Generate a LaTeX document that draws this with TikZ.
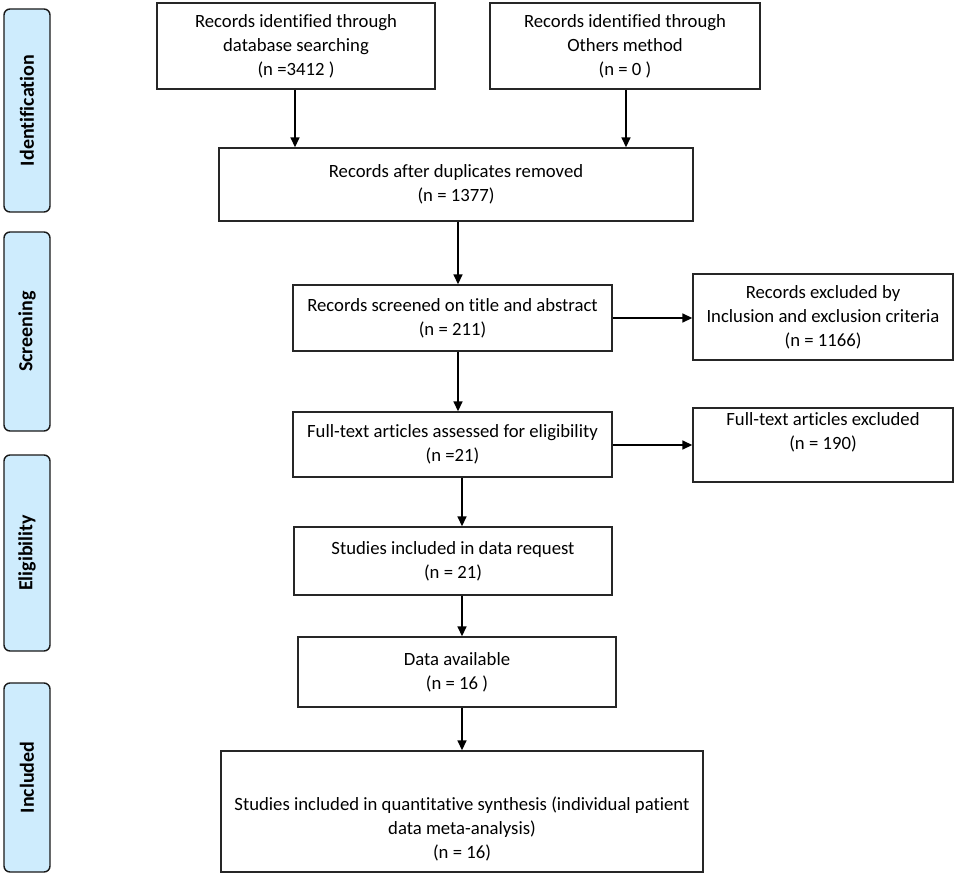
\documentclass[tikz,border=0pt]{standalone}
\usepackage{fontspec}
\setmainfont[Ligatures=NoCommon]{Carlito}
\usetikzlibrary{arrows.meta}
\definecolor{sidefill}{RGB}{206,236,253}
\tikzset{
  box/.style={draw=black!85, line width=1.4pt, fill=white, align=center, inner sep=2pt,
    font=\fontsize{18.7}{24}\selectfont, anchor=center},
  side/.style={draw=black!90, line width=1.4pt, fill=sidefill, rounded corners=6pt, anchor=center,
    minimum width=46pt},
  sidetext/.style={rotate=90, font=\fontsize{20}{24}\bfseries\selectfont},
  flow/.style={line width=1.6pt, -{Triangle[length=10pt,width=9pt]}},
}
\begin{document}
\begin{tikzpicture}[x=1pt,y=-1pt]
\useasboundingbox (0,0) rectangle (957,877);
% side phases
\node[side, minimum height=203pt] (sid) at (27,110.5) {};
\node[sidetext] (tid) at (sid.center) {Identification};
\node[side, minimum height=199pt] (ssc) at (27,331.5) {};
\node[sidetext] (tsc) at (ssc.center) {Screening};
\node[side, minimum height=196pt] (sel) at (27,553) {};
\node[sidetext] (tel) at (sel.center) {Eligibility};
\node[side, minimum height=189pt] (sin) at (27,777.5) {};
\node[sidetext] (tin) at (sin.center) {Included};
% boxes
\node[box, minimum width=278pt, minimum height=86pt] (A) at (296,46)
  {Records identified through\\database searching\\(n =3412 )};
\node[box, minimum width=270pt, minimum height=86pt] (B) at (625,46)
  {Records identified through\\Others method\\(n = 0 )};
\node[box, minimum width=474pt, minimum height=73pt] (C) at (456,184.5)
  {Records after duplicates removed\\(n = 1377)};
\node[box, minimum width=319pt, minimum height=66pt] (D) at (452.5,318)
  {Records screened on title and abstract\\(n = 211)};
\node[box, minimum width=260pt, minimum height=86pt] (E) at (823,317)
  {Records excluded by\\Inclusion and exclusion criteria\\(n = 1166)};
\node[box, minimum width=319pt, minimum height=65pt] (F) at (452.5,444.5)
  {Full-text articles assessed for eligibility\\(n =21)};
\node[box, minimum width=260pt, minimum height=74pt] (G) at (823,445)
  {Full-text articles excluded\\(n = 190)\\[4pt]\mbox{}};
\node[box, minimum width=318pt, minimum height=68pt] (H) at (453,561)
  {Studies included in data request\\(n = 21)};
\node[box, minimum width=318pt, minimum height=70pt] (I) at (457,672)
  {Data available\\(n = 16 )};
\node[box, minimum width=482pt, minimum height=121pt] (J) at (462,811.5)
  {\mbox{}\\[24pt]Studies included in quantitative synthesis (individual patient\\data meta-analysis)\\(n = 16)};
% connectors
\draw[flow] (A.south -| 295,0) -- (C.north -| 295,0);
\draw[flow] (B.south -| 626,0) -- (C.north -| 626,0);
\draw[flow] (C.south -| 458,0) -- (D.north -| 458,0);
\draw[flow] (D.east |- 0,318) -- (E.west |- 0,318);
\draw[flow] (D.south -| 458,0) -- (F.north -| 458,0);
\draw[flow] (F.east |- 0,445) -- (G.west |- 0,445);
\draw[flow] (F.south -| 462,0) -- (H.north -| 462,0);
\draw[flow] (H.south -| 462,0) -- (I.north -| 462,0);
\draw[flow] (I.south -| 462,0) -- (J.north -| 462,0);
\end{tikzpicture}
\end{document}
